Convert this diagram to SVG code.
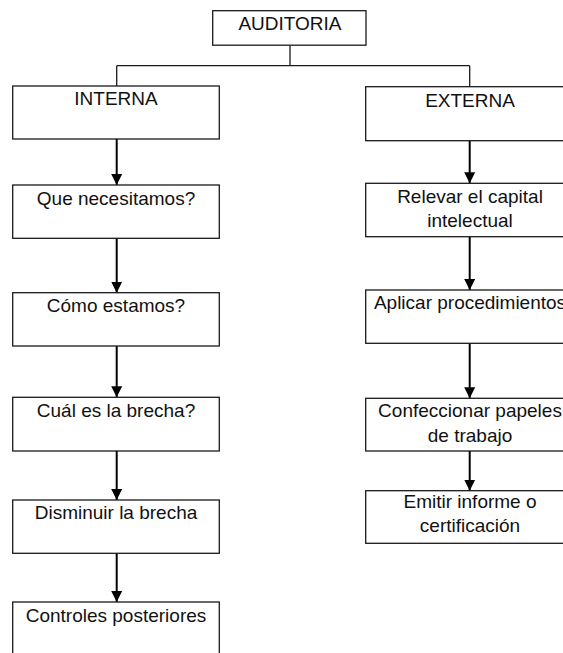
<svg xmlns="http://www.w3.org/2000/svg" width="563" height="653" viewBox="0 0 563 653">
<defs>
<style>
.box{fill:#fff;stroke:#1a1a1a;stroke-width:1.3}
.t{font-family:"Liberation Sans",Arial,sans-serif;font-size:19px;fill:#111;text-anchor:middle}
.tree{fill:none;stroke:#1a1a1a;stroke-width:1.3}
.arr{fill:none;stroke:#000;stroke-width:2;marker-end:url(#ah)}
</style>
<marker id="ah" markerUnits="userSpaceOnUse" markerWidth="12" markerHeight="12" viewBox="0 0 12 12" refX="11" refY="6" orient="auto">
<path d="M0,0.5 L11,6 L0,11.5 Z" fill="#000"/>
</marker>
</defs>
<rect width="563" height="653" fill="#fff"/>
<g id="connectors">
<path class="tree" d="M290,45.5 V65.7 M116.7,65.7 H469.7 M116.7,65.7 V86 M469.7,65.7 V86.7"/>
<line class="arr" x1="116.7" y1="139" x2="116.7" y2="185"/>
<line class="arr" x1="116.7" y1="238.3" x2="116.7" y2="292.7"/>
<line class="arr" x1="116.7" y1="346" x2="116.7" y2="397.3"/>
<line class="arr" x1="116.7" y1="451" x2="116.7" y2="500"/>
<line class="arr" x1="116.7" y1="553.3" x2="116.7" y2="602"/>
<line class="arr" x1="469.7" y1="140.7" x2="469.7" y2="183.3"/>
<line class="arr" x1="469.7" y1="236.7" x2="469.7" y2="290"/>
<line class="arr" x1="469.7" y1="343.3" x2="469.7" y2="398.3"/>
<line class="arr" x1="469.7" y1="451" x2="469.7" y2="490.7"/>
</g>
<g id="auditoria"><rect class="box" x="212.7" y="10.7" width="153.3" height="34.5"/><text class="t" x="290" y="30">AUDITORIA</text></g>
<g id="interna"><rect class="box" x="12.7" y="86" width="206.6" height="53"/><text class="t" x="116" y="105.3">INTERNA</text></g>
<g id="externa"><rect class="box" x="365.7" y="86.7" width="208" height="54"/><text class="t" x="470" y="106.7">EXTERNA</text></g>
<g id="que"><rect class="box" x="12.7" y="185" width="206.6" height="53.3"/><text class="t" x="116" y="204.5">Que necesitamos?</text></g>
<g id="como"><rect class="box" x="12.7" y="292.7" width="206.6" height="53.3"/><text class="t" x="116" y="312">Cómo estamos?</text></g>
<g id="cual"><rect class="box" x="12.7" y="397.3" width="206.6" height="53.7"/><text class="t" x="116" y="417">Cuál es la brecha?</text></g>
<g id="disminuir"><rect class="box" x="12.7" y="500" width="206.6" height="53.3"/><text class="t" x="116" y="519.3">Disminuir la brecha</text></g>
<g id="controles"><rect class="box" x="12.7" y="602" width="206.6" height="54"/><text class="t" x="116" y="621.7">Controles posteriores</text></g>
<g id="relevar"><rect class="box" x="365.7" y="183.3" width="208" height="53.4"/><text class="t" x="470" y="203.3">Relevar el capital</text><text class="t" x="470" y="227.3">intelectual</text></g>
<g id="aplicar"><rect class="box" x="365.7" y="290" width="208" height="53.3"/><text class="t" x="470" y="308.5">Aplicar procedimientos</text></g>
<g id="confeccionar"><rect class="box" x="365.7" y="398.3" width="208" height="52.7"/><text class="t" x="470" y="417">Confeccionar papeles</text><text class="t" x="470" y="441.5">de trabajo</text></g>
<g id="emitir"><rect class="box" x="365.7" y="490.7" width="208" height="52.6"/><text class="t" x="470" y="507.8">Emitir informe o</text><text class="t" x="470" y="532">certificación</text></g>
</svg>
